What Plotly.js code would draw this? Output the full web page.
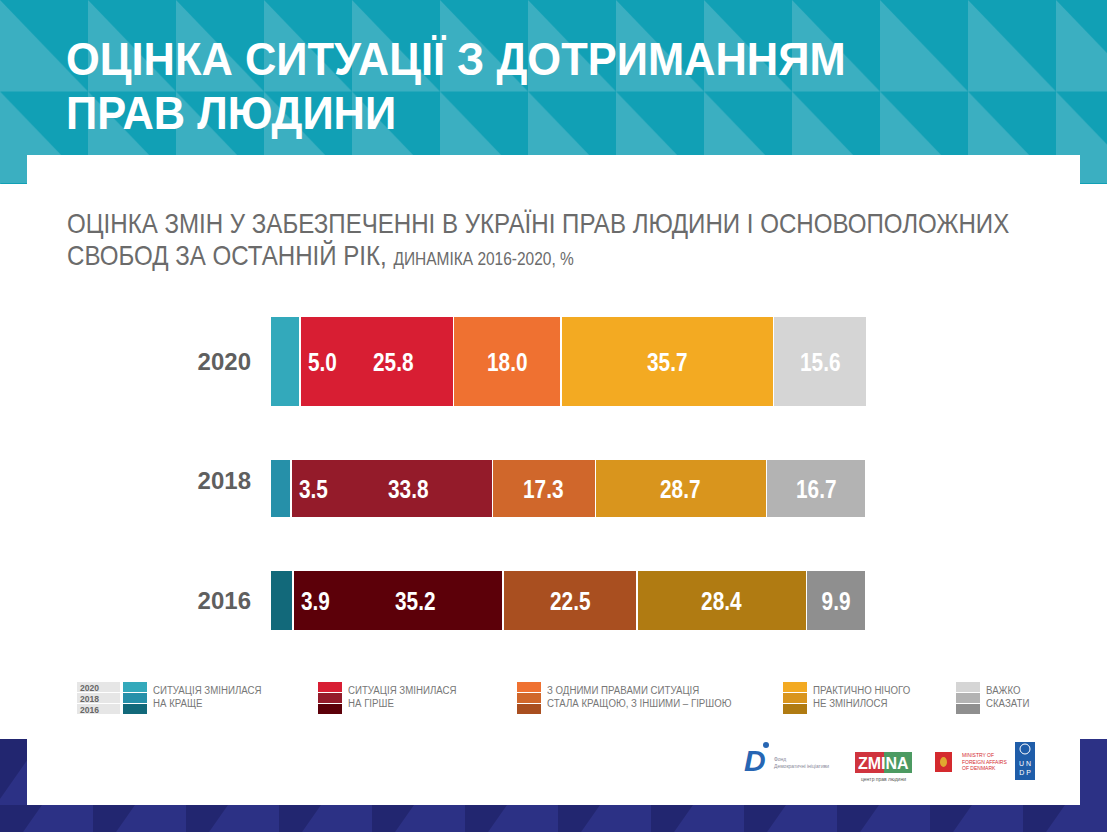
<!DOCTYPE html>
<html>
<head>
<meta charset="utf-8">
<script src="https://cdn.plot.ly/plotly-3.0.1.min.js"></script>
<style>
  html, body { margin: 0; padding: 0; background: #ffffff; }
  #wrap { position: relative; width: 1107px; height: 832px; overflow: hidden; }
  #bg { position: absolute; left: 0; top: 0; }
  #chart { position: absolute; left: 0; top: 0; width: 1107px; height: 832px; }
</style>
</head>
<body>
<div id="wrap">
<svg id="bg" width="1107" height="832" xmlns="http://www.w3.org/2000/svg">
  <defs>
    <pattern id="tp" x="0" y="0" width="88" height="91.5" patternUnits="userSpaceOnUse">
      <rect width="88" height="91.5" fill="#11a0b5"/>
      <polygon points="0,0 88,91.5 0,91.5" fill="#3bafc1"/>
    </pattern>
    <pattern id="np" x="0" y="739" width="93" height="66" patternUnits="userSpaceOnUse">
      <rect width="93" height="66" fill="#2c3185"/>
      <polygon points="0,0 42,0 0,60" fill="#222670"/>
    </pattern>
  </defs>
  <rect x="0" y="0" width="1107" height="184" fill="url(#tp)"/>
  <rect x="0" y="739" width="1107" height="93" fill="url(#np)"/>
  <rect x="27" y="155" width="1053" height="650" fill="#ffffff"/>
</svg>
<div id="chart"></div>
</div>
<script>
// ---- data ----
const years = ['2016', '2018', '2020'];
const categories = [
  'Ситуація змінилася на краще',
  'Ситуація змінилася на гірше',
  'З одними правами ситуація стала кращою, з іншими – гіршою',
  'Практично нічого не змінилося',
  'Важко сказати'
];
const better    = [3.9, 3.5, 5.0];
const worse     = [35.2, 33.8, 25.8];
const mixed     = [22.5, 17.3, 18.0];
const unchanged = [28.4, 28.7, 35.7];
const hard      = [9.9, 16.7, 15.6];
const legendLabels = [
  'СИТУАЦІЯ ЗМІНИЛАСЯ<br>НА КРАЩЕ',
  'СИТУАЦІЯ ЗМІНИЛАСЯ<br>НА ГІРШЕ',
  'З ОДНИМИ ПРАВАМИ СИТУАЦІЯ<br>СТАЛА КРАЩОЮ, З ІНШИМИ – ГІРШОЮ',
  'ПРАКТИЧНО НІЧОГО<br>НЕ ЗМІНИЛОСЯ',
  'ВАЖКО<br>СКАЗАТИ'
];
const series = [better, worse, mixed, unchanged, hard];

// ---- styles (colors per year: 2016, 2018, 2020) ----
const colors = [
  ['#12697a', '#2690a9', '#33a9bb'],
  ['#5c0009', '#941b2a', '#d81e33'],
  ['#a94f20', '#d0672b', '#ef7131'],
  ['#b07b12', '#d9951d', '#f3aa22'],
  ['#8f8f8f', '#b3b3b3', '#d5d5d5']
];
const barWidths  = [0.51, 0.485, 0.76];
const barShift   = [0, -0.063, 0];
const barOffsets = barWidths.map((w, i) => -w / 2 + barShift[i]);
const UNIT_PX = 119.5;

const SANS = '"Liberation Sans", Arial, sans-serif';

const L = 270, R = 867, T = 300, B = 660;
const xp = px => (px - L) / (R - L);
const yp = py => (B - py) / (B - T);
const fmt = v => v.toFixed(1);

const traces = series.map((vals, k) => ({
  type: 'bar',
  orientation: 'h',
  name: categories[k],
  x: vals,
  y: years,
  width: barWidths,
  offset: barOffsets,
  marker: { color: colors[k], line: { color: '#ffffff', width: 1.5 } },
  textposition: 'none',
  hoverinfo: 'x+name',
  showlegend: false
}));

const annotations = [];
const squeeze = [];   // horizontal condensing / line gap of each annotation's text
function addAnn(a, s) { annotations.push(a); squeeze.push(s || null); }

const labelFont = { family: SANS, size: 26, color: '#ffffff', weight: 'bold' };
const NARROW_F = 0.8;

years.forEach((yr, i) => {
  const ys = barShift[i] * UNIT_PX;
  // (category axis: annotation y uses the category index)
  addAnn({ x: better[i], y: i, xref: 'x', yref: 'y', xanchor: 'left', yanchor: 'middle',
    xshift: 6, yshift: ys, showarrow: false, text: fmt(better[i]), font: labelFont },
    { factor: NARROW_F, anchor: 'left' });
  addAnn({ x: better[i] + worse[i] / 2, y: i, xref: 'x', yref: 'y', xanchor: 'center', yanchor: 'middle',
    xshift: 17, yshift: ys, showarrow: false, text: fmt(worse[i]), font: labelFont },
    { factor: NARROW_F, anchor: 'center' });
  let start = better[i] + worse[i];
  [mixed, unchanged, hard].forEach(arr => {
    addAnn({ x: start + arr[i] / 2, y: i, xref: 'x', yref: 'y', xanchor: 'center', yanchor: 'middle',
      yshift: ys, showarrow: false, text: fmt(arr[i]), font: labelFont },
      { factor: NARROW_F, anchor: 'center' });
    start += arr[i];
  });
});

// main title
addAnn({ xref: 'paper', yref: 'paper', x: xp(64), y: yp(30), xanchor: 'left', yanchor: 'top', align: 'left',
  showarrow: false, text: 'ОЦІНКА СИТУАЦІЇ З ДОТРИМАННЯМ<br>ПРАВ ЛЮДИНИ',
  font: { family: SANS, size: 47, color: '#ffffff', weight: 'bold' } },
  { width: 780, anchor: 'left', lineGap: 54 });
// subtitle
addAnn({ xref: 'paper', yref: 'paper', x: xp(65), y: yp(206), xanchor: 'left', yanchor: 'top', align: 'left',
  showarrow: false,
  text: 'ОЦІНКА ЗМІН У ЗАБЕЗПЕЧЕННІ В УКРАЇНІ ПРАВ ЛЮДИНИ І ОСНОВОПОЛОЖНИХ<br>СВОБОД ЗА ОСТАННІЙ РІК, <span style="font-size:18px">ДИНАМІКА 2016-2020, %</span>',
  font: { family: SANS, size: 28, color: '#6b6b6b' } },
  { width: 943, anchor: 'left', lineGap: 32 });

// custom legend
const shapes = [];
const legendX = [123, 318, 517, 783, 956];
const rowTop = [682, 693, 704];       // rows for 2020, 2018, 2016
const rowYearIdx = [2, 1, 0];
rowTop.forEach((top, r) => {
  shapes.push({ type: 'rect', xref: 'paper', yref: 'paper',
    x0: xp(77), x1: xp(120), y0: yp(top), y1: yp(top + 10),
    fillcolor: '#e6e6e6', line: { width: 0 } });
});
addAnn({ xref: 'paper', yref: 'paper', x: xp(78), y: yp(680), xanchor: 'left', yanchor: 'top', align: 'left',
  showarrow: false, text: rowYearIdx.map(i => years[i]).join('<br>'),
  font: { family: SANS, size: 9.5, color: '#666666', weight: 'bold' } },
  { factor: 0.9, anchor: 'left', lineGap: 11 });
legendX.forEach((lx, k) => {
  rowTop.forEach((top, r) => {
    shapes.push({ type: 'rect', xref: 'paper', yref: 'paper',
      x0: xp(lx), x1: xp(lx + 24), y0: yp(top), y1: yp(top + 10),
      fillcolor: colors[k][rowYearIdx[r]], line: { width: 0 } });
  });
  addAnn({ xref: 'paper', yref: 'paper', x: xp(lx + 28), y: yp(682), xanchor: 'left', yanchor: 'top', align: 'left',
    showarrow: false, text: legendLabels[k],
    font: { family: SANS, size: 11, color: '#777777' } },
    { factor: 0.88, anchor: 'left', lineGap: 13 });
});

// partner logos (simplified)
addAnn({ xref: 'paper', yref: 'paper', x: xp(755), y: yp(760), xanchor: 'center', yanchor: 'middle',
  showarrow: false, text: '<i><b>D</b></i>', font: { family: SANS, size: 30, color: '#2766b3' } });
shapes.push({ type: 'circle', xref: 'paper', yref: 'paper', x0: xp(763), x1: xp(769), y0: yp(742), y1: yp(748),
  fillcolor: '#2766b3', line: { width: 0 } });
addAnn({ xref: 'paper', yref: 'paper', x: xp(772), y: yp(762), xanchor: 'left', yanchor: 'middle',
  showarrow: false, align: 'left', text: 'Фонд<br>Демократичні ініціативи', font: { family: SANS, size: 5, color: '#8a8a9a' } });
shapes.push({ type: 'rect', xref: 'paper', yref: 'paper', x0: xp(855), x1: xp(884), y0: yp(752), y1: yp(773),
  fillcolor: '#d0343e', line: { width: 0 } });
shapes.push({ type: 'rect', xref: 'paper', yref: 'paper', x0: xp(884), x1: xp(912), y0: yp(752), y1: yp(773),
  fillcolor: '#4c9a62', line: { width: 0 } });
addAnn({ xref: 'paper', yref: 'paper', x: xp(883.5), y: yp(763), xanchor: 'center', yanchor: 'middle',
  showarrow: false, text: '<b>ZMINA</b>', font: { family: SANS, size: 16, color: '#ffffff' } });
addAnn({ xref: 'paper', yref: 'paper', x: xp(883.5), y: yp(779), xanchor: 'center', yanchor: 'middle',
  showarrow: false, text: 'центр прав людини', font: { family: SANS, size: 5, color: '#555555' } });
shapes.push({ type: 'rect', xref: 'paper', yref: 'paper', x0: xp(935), x1: xp(952), y0: yp(752), y1: yp(772),
  fillcolor: '#d42a2e', line: { width: 0 } });
shapes.push({ type: 'circle', xref: 'paper', yref: 'paper', x0: xp(940), x1: xp(947), y0: yp(757), y1: yp(767),
  fillcolor: '#e0a830', line: { width: 0 } });
addAnn({ xref: 'paper', yref: 'paper', x: xp(960), y: yp(761), xanchor: 'left', yanchor: 'middle',
  showarrow: false, align: 'left', text: 'MINISTRY OF<br>FOREIGN AFFAIRS<br>OF DENMARK', font: { family: SANS, size: 5, color: '#d42a2e' } });
shapes.push({ type: 'rect', xref: 'paper', yref: 'paper', x0: xp(1015), x1: xp(1035), y0: yp(742), y1: yp(780),
  fillcolor: '#1f5da9', line: { width: 0 } });
shapes.push({ type: 'circle', xref: 'paper', yref: 'paper', x0: xp(1020), x1: xp(1030), y0: yp(744), y1: yp(754),
  fillcolor: 'rgba(0,0,0,0)', line: { color: '#ffffff', width: 1 } });
addAnn({ xref: 'paper', yref: 'paper', x: xp(1025), y: yp(768), xanchor: 'center', yanchor: 'middle',
  showarrow: false, text: 'U N<br>D P', font: { family: SANS, size: 7, color: '#ffffff' } });

const layout = {
  width: 1107, height: 832,
  margin: { l: L, r: 1107 - R, t: T, b: 832 - B, pad: 0 },
  paper_bgcolor: 'rgba(0,0,0,0)',
  plot_bgcolor: 'rgba(0,0,0,0)',
  barmode: 'stack',
  showlegend: false,
  xaxis: { range: [0, 100.17], visible: false, fixedrange: true },
  yaxis: {
    type: 'category', categoryorder: 'array', categoryarray: years,
    range: [-0.498, 2.515], showgrid: false, zeroline: false, showline: false,
    ticks: '', ticklabelstandoff: 18,
    tickfont: { family: SANS, size: 24, color: '#5f5f5f', weight: 'bold' },
    fixedrange: true
  },
  annotations: annotations,
  shapes: shapes
};

function condense(gd) {
  const groups = gd.querySelectorAll('.annotation');
  groups.forEach((g, n) => {
    const idx = g.hasAttribute('data-index') ? +g.getAttribute('data-index') : n;
    const spec = squeeze[idx];
    if (!spec) return;
    const t = g.querySelector('text.annotation-text');
    if (!t) return;
    if (spec.lineGap) {
      // each line tspan is offset from the text's own y, so the offset grows with the line number
      t.querySelectorAll('tspan.line').forEach((ln, j) => {
        ln.setAttribute('dy', (j * spec.lineGap) + 'px');
      });
    }
    const bb = t.getBBox();
    const f = spec.width ? spec.width / bb.width : spec.factor;
    if (!f) return;
    const x0 = spec.anchor === 'center' ? bb.x + bb.width / 2 : bb.x;
    const prev = t.getAttribute('transform') || '';
    t.setAttribute('transform', prev + ' translate(' + x0 + ',0) scale(' + f + ',1) translate(' + (-x0) + ',0)');
  });
}

Plotly.newPlot('chart', traces, layout, { displayModeBar: false, staticPlot: true })
  .then(gd => condense(gd));
</script>
</body>
</html>
